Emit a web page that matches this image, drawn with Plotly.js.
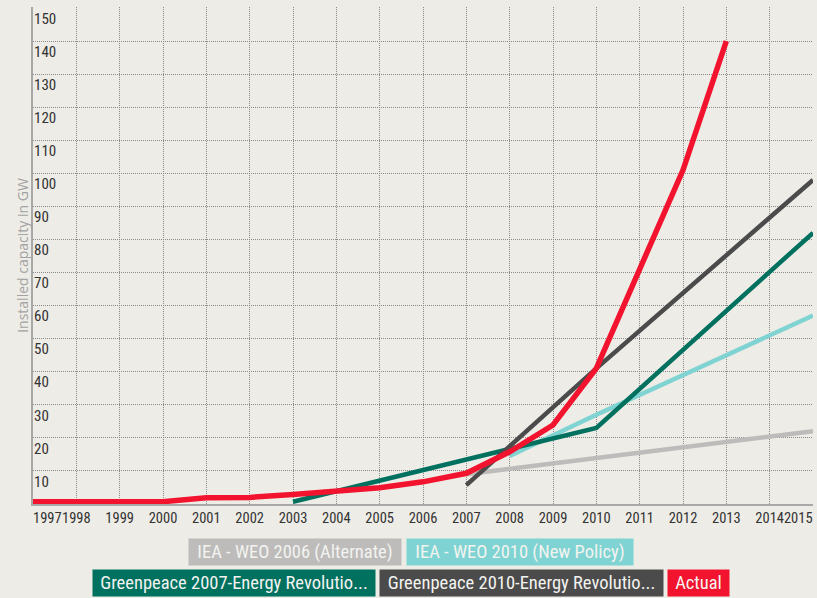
<!DOCTYPE html>
<html>
<head>
<meta charset="utf-8">
<script src="https://cdn.plot.ly/plotly-3.0.1.min.js"></script>
<style>
  html, body { margin: 0; padding: 0; background: #eeece6; }
  #chart { width: 817px; height: 598px; }
</style>
</head>
<body>
<div id="chart"></div>
<script>
// ---- Data ----
const seriesNames = [
  "IEA - WEO 2006 (Alternate)",
  "IEA - WEO 2010 (New Policy)",
  "Greenpeace 2007-Energy Revolutio...",
  "Greenpeace 2010-Energy Revolutio...",
  "Actual"
];
const seriesColors = ["#bdbcbb", "#7fd3d2", "#00705f", "#4b4b4b", "#f2142e"];

const iea2006Years = [2007, 2015];
const iea2006Values = [9, 22];

const iea2010Years = [2008, 2010, 2015];
const iea2010Values = [14.5, 27, 57];

const gp2007Years = [2003, 2010, 2015];
const gp2007Values = [0.7, 23, 82];

const gp2010Years = [2007, 2010, 2015];
const gp2010Values = [5.7, 41, 98];

const actualYears = [1997, 1998, 1999, 2000, 2001, 2002, 2003, 2004, 2005, 2006, 2007, 2008, 2009, 2010, 2011, 2012, 2013];
const actualValues = [0.7, 0.7, 0.7, 0.7, 1.9, 2.0, 2.9, 3.7, 4.9, 6.7, 9.3, 15.8, 23.9, 41, 71, 101, 140];

const xTickYears = [1997, 1998, 1999, 2000, 2001, 2002, 2003, 2004, 2005, 2006, 2007, 2008, 2009, 2010, 2011, 2012, 2013, 2014, 2015];
const xTickLabels = xTickYears.map(String);
const yTickValues = [10, 20, 30, 40, 50, 60, 70, 80, 90, 100, 110, 120, 130, 140, 150];
const yTitle = "Installed capacity in GW";

// ---- Build chart ----
const seriesX = [iea2006Years, iea2010Years, gp2007Years, gp2010Years, actualYears];
const seriesY = [iea2006Values, iea2010Values, gp2007Values, gp2010Values, actualValues];
const widths = [4.5, 4.5, 4.5, 4.5, 5.5];

const traces = seriesNames.map((name, i) => ({
  type: "scatter",
  mode: "lines",
  name: name,
  x: seriesX[i],
  y: seriesY[i],
  line: { color: seriesColors[i], width: widths[i] },
  hoverinfo: "x+y+name",
  showlegend: false
}));

// label-axis dummy trace so xaxis2 is drawn
traces.push({ type: "scatter", mode: "lines", x: [1997, 2015], y: [0, 0], xaxis: "x2",
  line: { width: 0 }, hoverinfo: "skip", showlegend: false });

const W = 817, H = 598;
const M = { l: 33, r: 4, t: 7, b: 94 };
const pw = W - M.l - M.r, ph = H - M.t - M.b;
const px2x = (px) => (px - M.l) / pw;
const py2y = (py) => (H - M.b - py) / ph;

// label positions: end labels nudged inward as in the original
const n = xTickYears.length;
const labelVals = xTickYears.map((y, i) => i === 0 ? y + 0.33 : (i === n - 1 ? y - 0.34 : y));

// legend boxes as coloured annotations
const boxes = [
  { i: 0, left: 188, top: 538, w: 212 },
  { i: 1, left: 406, top: 538, w: 226 },
  { i: 2, left: 92,  top: 569, w: 282 },
  { i: 3, left: 379, top: 569, w: 283 },
  { i: 4, left: 667, top: 569, w: 61 }
];
const legendFont = "Liberation Sans Narrow, Roboto Condensed, Roboto, sans-serif";
const annotations = boxes.map(b => ({
  xref: "paper", yref: "paper",
  x: px2x(b.left), y: py2y(b.top),
  xanchor: "left", yanchor: "top",
  text: seriesNames[b.i],
  showarrow: false,
  bgcolor: seriesColors[b.i],
  width: b.w, height: 26,
  borderpad: 0,
  align: "center", valign: "middle",
  font: { family: legendFont, size: 18.5, color: "#f3f3f0" }
}));

const axisFont = "Liberation Sans Narrow, Roboto Condensed, Roboto, sans-serif";
const gridDash = "1px,1px";

const layout = {
  width: W, height: H,
  margin: M,
  paper_bgcolor: "#eeece6",
  plot_bgcolor: "#eeece6",
  showlegend: false,
  xaxis: {
    range: [1997, 2015],
    tickmode: "array",
    tickvals: xTickYears,
    showticklabels: false,
    showgrid: true,
    gridcolor: "#8a8a8a",
    griddash: gridDash,
    gridwidth: 1,
    zeroline: false,
    showline: true,
    linecolor: "#a8a8a8",
    linewidth: 2,
    ticks: "",
    fixedrange: true
  },
  xaxis2: {
    overlaying: "x",
    side: "bottom",
    anchor: "y",
    range: [1997, 2015],
    tickmode: "array",
    tickvals: labelVals,
    ticktext: xTickLabels,
    tickangle: 0,
    ticklabeloverflow: "allow",
    ticklabelstandoff: 3,
    showgrid: false,
    zeroline: false,
    showline: false,
    ticks: "",
    ticklen: 0,
    tickfont: { family: axisFont, size: 14.5, color: "#333333" },
    fixedrange: true
  },
  yaxis: {
    range: [0, 150.3],
    tickmode: "array",
    tickvals: yTickValues,
    ticktext: yTickValues.map(String),
    ticklabelposition: "inside bottom",
    ticklabeloverflow: "allow",
    tickfont: { family: axisFont, size: 15, color: "#333333" },
    showgrid: true,
    gridcolor: "#8a8a8a",
    griddash: gridDash,
    gridwidth: 1,
    zeroline: false,
    showline: true,
    linecolor: "#a8a8a8",
    linewidth: 2,
    ticks: "",
    title: { text: yTitle, font: { family: "Open Sans, sans-serif", size: 14, color: "#a3a3a3" }, standoff: 2 },
    fixedrange: true
  },
  annotations: annotations
};

Plotly.newPlot("chart", traces, layout, { displayModeBar: false, staticPlot: false });
</script>
</body>
</html>
